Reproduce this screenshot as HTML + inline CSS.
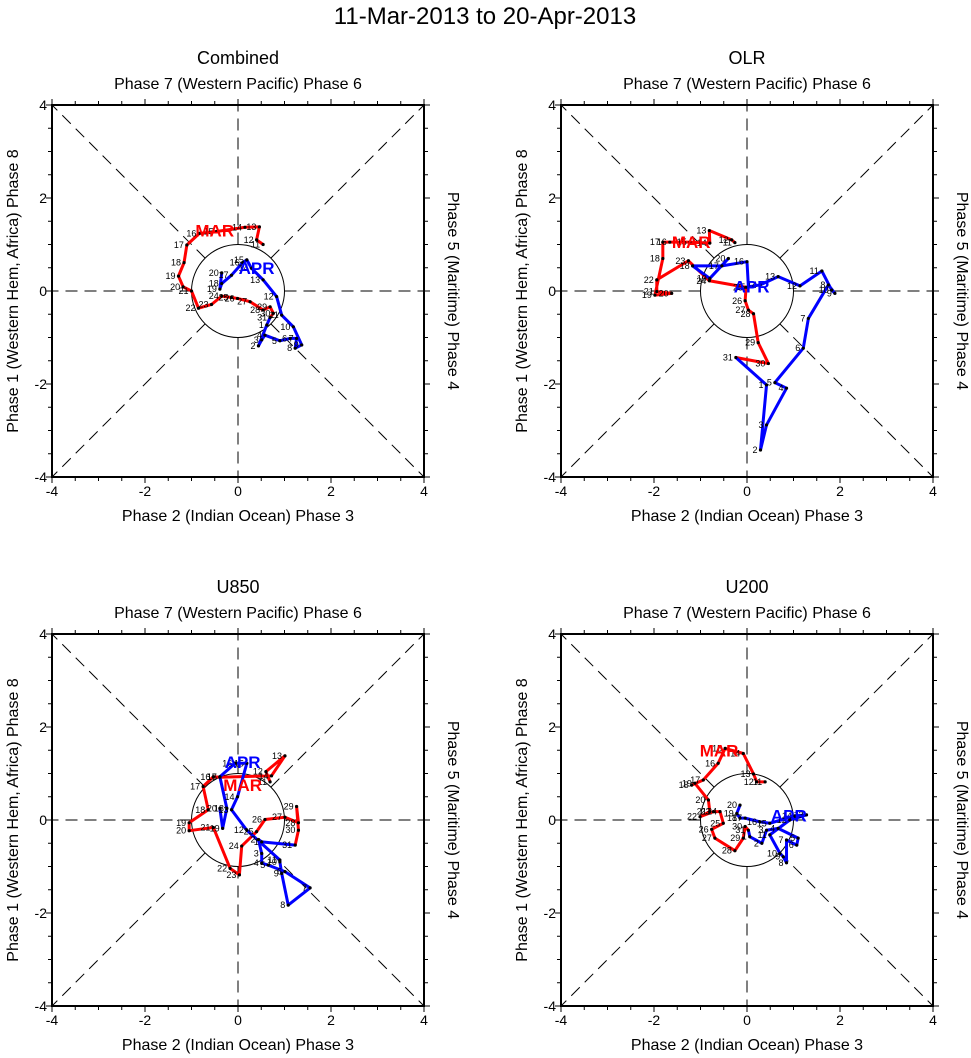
<!DOCTYPE html>
<html><head><meta charset="utf-8">
<style>
html,body{margin:0;padding:0;background:#fff;}
svg{display:block;font-family:"Liberation Sans",Arial,sans-serif;}
</style></head>
<body>
<svg id="chart" width="971" height="1058" viewBox="0 0 971 1058" xmlns="http://www.w3.org/2000/svg">
<text x="485" y="24" font-size="24" text-anchor="middle">11-Mar-2013 to 20-Apr-2013</text>
</svg>
<script>
const panelTitles = ["Combined", "OLR", "U850", "U200"];
const tickValues = [-4, -2, 0, 2, 4];
const marDays = [11,12,13,14,15,16,17,18,19,20,21,22,23,24,25,26,27,28,29,30,31];
const aprDays = [1,2,3,4,5,6,7,8,9,10,11,12,13,14,15,16,17,18,19,20];

const combinedMarX = [0.54,0.40,0.46,0.15,-0.46,-0.83,-1.10,-1.16,-1.28,-1.18,-1.00,-0.85,-0.57,-0.35,-0.14,-0.01,0.26,0.54,0.69,0.76,0.69];
const combinedMarY = [1.00,1.10,1.38,1.37,1.28,1.24,0.99,0.61,0.32,0.09,0.00,-0.37,-0.29,-0.11,-0.14,-0.16,-0.23,-0.41,-0.34,-0.48,-0.57];
const combinedAprX = [0.62,0.44,0.51,0.58,0.90,1.12,1.26,1.23,1.37,1.19,0.94,0.83,0.54,0.29,0.19,0.10,-0.14,-0.35,-0.39,-0.35];
const combinedAprY = [-0.73,-1.18,-1.05,-0.95,-1.07,-1.02,-1.02,-1.23,-1.16,-0.77,-0.52,-0.12,0.24,0.49,0.67,0.61,0.34,0.16,0.04,0.39];

const olrMarX = [-0.26,-0.33,-0.81,-0.80,-1.23,-1.66,-1.81,-1.81,-1.98,-1.62,-1.94,-1.94,-1.26,-0.81,-0.02,-0.04,0.03,0.14,0.24,0.46,-0.24];
const olrMarY = [1.04,1.10,1.30,1.03,1.05,1.05,1.05,0.70,-0.09,-0.05,-0.01,0.24,0.65,0.22,0.08,-0.21,-0.41,-0.49,-1.11,-1.56,-1.43];
const olrAprX = [0.42,0.29,0.42,0.85,0.60,1.21,1.32,1.75,1.89,1.82,1.61,1.14,0.67,0.28,0.03,0.00,-0.54,-1.17,-0.80,-0.40];
const olrAprY = [-2.02,-3.42,-2.88,-2.09,-1.97,-1.23,-0.59,0.13,-0.05,0.02,0.43,0.11,0.31,0.13,0.09,0.63,0.54,0.54,0.27,0.70];

const u850MarX = [0.69,0.60,1.01,0.72,-0.39,-0.53,-0.75,-0.64,-1.05,-1.05,-0.53,-0.17,0.03,0.08,0.40,0.58,1.01,1.30,1.26,1.30,1.23];
const u850MarY = [0.82,1.04,1.38,0.95,0.92,0.93,0.72,0.22,-0.06,-0.23,-0.16,-1.04,-1.18,-0.56,-0.25,0.01,0.06,-0.06,0.29,-0.22,-0.54];
const u850AprX = [0.51,0.44,0.51,0.51,0.65,1.01,1.55,1.08,0.94,0.90,0.90,0.19,-0.14,-0.01,0.19,-0.06,-0.39,-0.24,-0.33,-0.39];
const u850AprY = [-0.47,-0.42,-0.72,-0.93,-0.97,-1.11,-1.46,-1.83,-1.15,-0.90,-0.86,-0.22,0.22,0.50,1.22,1.22,0.93,0.25,-0.18,0.25];

const u200MarX = [0.39,0.21,0.14,-0.08,-0.47,-0.62,-0.94,-1.19,-1.12,-0.83,-0.80,-1.01,-0.72,-0.58,-0.51,-0.76,-0.69,-0.26,-0.08,-0.04,0.03];
const u200MarY = [0.82,0.82,0.99,1.43,1.54,1.22,0.86,0.75,0.79,0.43,0.18,0.07,0.18,0.18,-0.07,-0.20,-0.39,-0.66,-0.39,-0.14,-0.22];
const u200AprX = [0.06,0.32,0.42,0.67,1.10,1.07,0.85,0.85,0.78,0.71,0.49,0.92,1.28,1.03,0.49,0.28,-0.04,-0.15,-0.22,-0.15];
const u200AprY = [-0.36,-0.50,-0.22,-0.18,-0.39,-0.54,-0.43,-0.92,-0.79,-0.72,-0.32,0.00,0.11,0.09,-0.07,-0.04,0.04,0.04,0.14,0.32];

const marLabelX = [-0.5, -1.2, 0.1, -0.6];
const marLabelY = [1.3, 1.05, 0.75, 1.5];
const aprLabelX = [0.4, 0.1, 0.1, 0.9];
const aprLabelY = [0.5, 0.1, 1.25, 0.1];

const panels = [
  {ox:0, oy:0, mx:combinedMarX, my:combinedMarY, ax:combinedAprX, ay:combinedAprY},
  {ox:509, oy:0, mx:olrMarX, my:olrMarY, ax:olrAprX, ay:olrAprY},
  {ox:0, oy:529, mx:u850MarX, my:u850MarY, ax:u850AprX, ay:u850AprY},
  {ox:509, oy:529, mx:u200MarX, my:u200MarY, ax:u200AprX, ay:u200AprY}
];

const svg = document.getElementById('chart');
const NS = 'http://www.w3.org/2000/svg';
function mk(tag, attrs, parent) {
  const e = document.createElementNS(NS, tag);
  for (const k in attrs) e.setAttribute(k, attrs[k]);
  (parent || svg).appendChild(e);
  return e;
}
const U = 46.5;

panels.forEach((p, i) => {
  const L = 52 + p.ox, T = 105 + p.oy, S = 372;
  const cx = L + S/2, cy = T + S/2;
  const sx = v => cx + v*U;
  const sy = v => cy - v*U;
  const g = mk('g', {});
  
  

  const dirs = [[1,0],[-1,0],[0,1],[0,-1],[1,1],[1,-1],[-1,1],[-1,-1]];
  dirs.forEach(d => {
    const n = Math.hypot(d[0], d[1]);
    const ln = mk('line', {x1: sx(d[0]/n), y1: sy(d[1]/n), x2: sx(d[0]*4), y2: sy(d[1]*4), stroke:'#000', 'stroke-width':1, 'stroke-dasharray':'12,7'}, g);
    
    
  });
  const c = mk('circle', {cx:cx, cy:cy, r:U, fill:'none', stroke:'#000', 'stroke-width':1}, g);
  
  

  const box = mk('rect', {x:L, y:T, width:S, height:S, fill:'none', stroke:'#000', 'stroke-width':2}, g);
  
  

  for (let v = -4; v <= 4; v += 0.5) {
    const major = Number.isInteger(v) && v % 2 === 0;
    const len = major ? 6 : 4;
    mk('line', {x1:sx(v), y1:T+S, x2:sx(v), y2:T+S+len, stroke:'#000','stroke-width':1}, g);
    mk('line', {x1:sx(v), y1:T, x2:sx(v), y2:T-len, stroke:'#000','stroke-width':1}, g);
    mk('line', {x1:L, y1:sy(v), x2:L-len, y2:sy(v), stroke:'#000','stroke-width':1}, g);
    mk('line', {x1:L+S, y1:sy(v), x2:L+S+len, y2:sy(v), stroke:'#000','stroke-width':1}, g);
  }
  tickValues.forEach(v => {
    const tx = mk('text', {x:sx(v), y:T+S+19, 'font-size':14, 'text-anchor':'middle'}, g);
    tx.textContent = v;
    
    
    const ty = mk('text', {x:L-5, y:sy(v)+5, 'font-size':14, 'text-anchor':'end'}, g);
    ty.textContent = v;
    
    
  });

  const t1 = mk('text', {x:cx, y:T-41, 'font-size':18, 'text-anchor':'middle'}, g);
  t1.textContent = panelTitles[i];
  
  
  const t2 = mk('text', {x:cx, y:T-16, 'font-size':16, 'text-anchor':'middle'}, g);
  t2.textContent = 'Phase 7 (Western Pacific) Phase 6';
  
  
  const t3 = mk('text', {x:cx, y:T+S+44, 'font-size':16, 'text-anchor':'middle'}, g);
  t3.textContent = 'Phase 2 (Indian Ocean) Phase 3';
  
  
  const t4 = mk('text', {x:0, y:0, 'font-size':16, 'text-anchor':'middle', transform:`translate(${L-34},${cy}) rotate(-90)`}, g);
  t4.textContent = 'Phase 1 (Western Hem, Africa) Phase 8';
  
  
  const t5 = mk('text', {x:0, y:0, 'font-size':16, 'text-anchor':'middle', transform:`translate(${L+S+24},${cy}) rotate(90)`}, g);
  t5.textContent = 'Phase 5 (Maritime) Phase 4';
  
  

  const marPts = p.mx.map((x, k) => sx(x) + ',' + sy(p.my[k])).join(' ');
  const mLine = mk('polyline', {points: marPts, fill:'none', stroke:'#f00', 'stroke-width':3, 'stroke-linejoin':'round'}, g);
  
  
  const lastM = p.mx.length - 1;
  const aprPts = [sx(p.mx[lastM]) + ',' + sy(p.my[lastM])].concat(p.ax.map((x, k) => sx(x) + ',' + sy(p.ay[k]))).join(' ');
  const aLine = mk('polyline', {points: aprPts, fill:'none', stroke:'#00f', 'stroke-width':3, 'stroke-linejoin':'round'}, g);
  
  

  function dots(xs, ys, days) {
    xs.forEach((x, k) => {
      const d = mk('circle', {cx:sx(x), cy:sy(ys[k]), r:1.6, fill:'#000'}, g);
      
      
      const lb = mk('text', {x:sx(x)-3, y:sy(ys[k])+3, 'font-size':9, 'text-anchor':'end'}, g);
      lb.textContent = days[k];
      
      
    });
  }
  dots(p.mx, p.my, marDays);
  dots(p.ax, p.ay, aprDays);

  const ml = mk('text', {x:sx(marLabelX[i]), y:sy(marLabelY[i])+6, 'font-size':17, 'font-weight':'bold', fill:'#f00', 'text-anchor':'middle'}, g);
  ml.textContent = 'MAR';
  
  
  const al = mk('text', {x:sx(aprLabelX[i]), y:sy(aprLabelY[i])+6, 'font-size':17, 'font-weight':'bold', fill:'#00f', 'text-anchor':'middle'}, g);
  al.textContent = 'APR';
  
  
});
</script>
</body></html>
